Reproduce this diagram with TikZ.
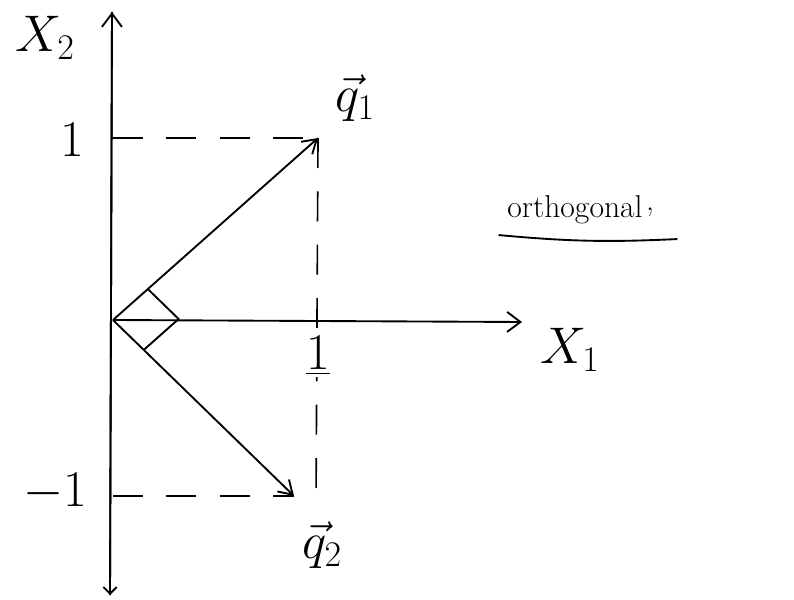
\RequirePackage{fix-cm}
\documentclass[tikz,border=0pt]{standalone}
\usepackage{amsmath}
\usepackage{tikz}
\usetikzlibrary{arrows.meta,positioning,calc}

\begin{document}
\begin{tikzpicture}[x=0.3mm,y=-0.3mm, line width=1.6pt,
    every node/.style={font=\fontsize{44}{48}\selectfont,align=center},
    axis/.style={-{Straight Barb[length=4mm,width=6mm]}},
    vec/.style={-{Straight Barb[length=4mm,width=5mm]}},
    guide/.style={dashed,dash pattern=on 9mm off 7mm,line width=1.4pt}]
    \useasboundingbox (0,0) rectangle (794,600);
    % axes and points
    \coordinate (o) at (113,320);
    \coordinate (xend) at (522,322);
    \coordinate (ytop) at (112,12);
    \coordinate (ybot) at (110,595);
    \coordinate (q1) at (318,138);
    \coordinate (q2) at (294,496);
    \coordinate (low) at (316,505);
    \draw[axis] (ybot) -- (ytop);
    \draw[-{Straight Barb[length=2mm]}] (ytop) -- (ybot);
    \draw[axis] (o) -- (xend);
    % dashed guides
    \draw[guide] (o |- q1) -- (q1);
    \draw[guide] (q1) -- (low);
    \draw[guide] (o |- q2) -- (q2);
    % vectors
    \draw[vec] (o) -- (q1);
    \draw[vec] (o) -- (q2);
    % right angle mark
    \draw ($(o)!0.17!(q1)$) -- ($(o)!0.17!(q1)+(o)!0.17!(q2)-(o)$) -- ($(o)!0.17!(q2)$);
    % labels
    \node (lx2) at (45,38) {$X_2$};
    \node (lx1) at (570,350) {$X_1$};
    \node (ly1) at (72,140) {$1$};
    \node (lym) at (55,492) {$-1$};
    \node[fill=white,inner sep=1pt] (lx1t) at (318,356) {$\underline{1}$};
    \node (lq1) at (355,98) {$\vec{q}_1$};
    \node (lq2) at (322,545) {$\vec{q}_2$};
    \node[font=\fontsize{27}{30}\selectfont] (orth) at (575,210) {orthogonal};
    \node[font=\fontsize{27}{30}\selectfont] (comma) at (650,212) {,};
    \draw (orth.south west) ++(-4,6) coordinate (u1) to[bend right=4] ($(orth.south east)+(30,10)$) coordinate (u2);
\end{tikzpicture}
\end{document}
